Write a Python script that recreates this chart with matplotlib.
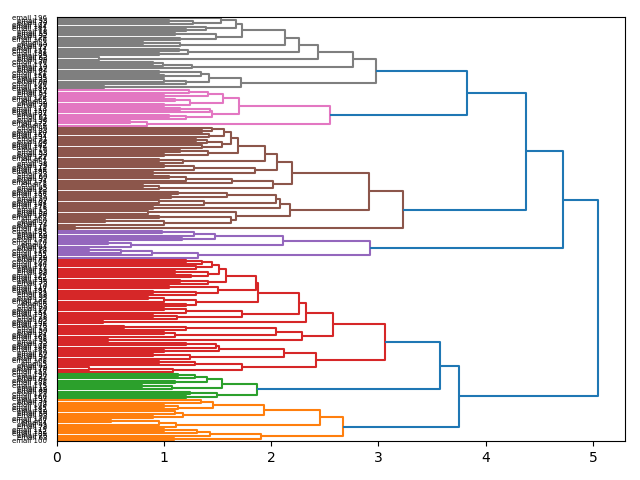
import matplotlib
matplotlib.use("Agg")
import matplotlib.pyplot as plt
from matplotlib.collections import LineCollection

# merge tree, listed top to bottom
# node = (height, upper child, lower child)
# list = small run of leaves merged one after another at the given heights
gray = (2.98,
        (2.76,
         (2.44,
          (2.26,
           (2.13,
            (1.73,
             (1.67,
              (1.53, [], [1.05, 1.27]),
              (1.39, [], [1.2])),
             (1.48, [1.1], [1.15])),
            [0.8, 1.15]),
           (1.22, [1.14], [0.95])),
          [0.39]),
         (1.26, [0.9, 0.99], [])),
        (1.72,
         (1.42, (1.34, [0.95], [1.0]), [1.0, 1.2]),
         [0.44]))

pink = (2.55,
        (1.70,
         (1.55,
          (1.41, [1.23], [1.0]),
          (1.24, [1.10], [1.0])),
         (1.45, [1.15, 1.43], [1.05, 1.2])),
        [0.68, 0.84])

brown = (3.23,
         (2.91,
          (2.19,
           (2.05,
            (1.94,
             (1.69,
              (1.62,
               (1.56, (1.45, [], [1.35]), [1.42]),
               (1.54, [1.3, 1.4], [1.35])),
              (1.41, [1.15], [1.0])),
             [0.95, 1.18]),
            (1.85, [1.0, 1.28], [0.9])),
           (2.02, (1.63, [1.05, 1.2], []), [0.8, 0.95])),
          (2.17,
           (2.08,
            (2.04, (1.59, [1.13], [1.06]), (1.37, [0.95], [])),
            [0.9]),
           (1.67, [0.85], (1.62, [0.95], [0.45, 1.0])))),
         [0.17])

purple = (2.92,
          (2.11,
           (1.47, (1.28, [0.98], []), [1.17]),
           [0.48, 0.69]),
          (1.32, [0.3, 0.6, 0.89], []))

red = (3.06,
       (2.58,
        (2.32,
         (2.26,
          (1.88,
           (1.86,
            (1.58,
             (1.51, (1.45, [1.2, 1.35], [1.3]), (1.41, [1.1], [1.25])),
             [1.15, 1.41]),
            (1.5, [1.05], [0.9, 1.3])),
           (1.3, [0.85, 1.0], [1.2])),
          (1.73, [1.0, 1.2], [0.9, 1.12])),
         [0.43]),
        (2.29, (2.04, [0.63, 1.2], [1.0, 1.1]), [0.48])),
       (2.42,
        (2.12, (1.51, (1.48, [1.2], []), [1.0]), (1.24, [0.9], [])),
        (1.73, [0.95, 1.29], [0.3, 1.08])))

green = (1.87,
         (1.54, (1.40, (1.29, [1.13], []), [1.1]), [0.79, 1.07]),
         (1.49, [1.24], [1.2]))

orange = (2.67,
          (2.45,
           (1.93, (1.46, [1.34], [1.0, 1.13]), (1.18, [1.10], [0.9])),
           (1.11, [0.5, 0.95], [])),
          (1.90, (1.43, (1.31, [1.0], []), []), [1.09]))

tree = (5.05,
        (4.72, (4.38, (3.83, gray, pink), brown), purple),
        (3.75, (3.57, red, green), orange))

max_h = tree[0]
threshold = 0.7 * max_h

links = []      # (h, pos_a, h_a, pos_b, h_b, cluster)
n_leaves = [0]
n_clusters = [0]


def walk(node, cid):
    if isinstance(node, list):
        if cid is None:
            cid = n_clusters[0]
            n_clusters[0] += 1
        pos, h = n_leaves[0], 0.0
        n_leaves[0] += 1
        for hm in node:
            pos2 = n_leaves[0]
            n_leaves[0] += 1
            links.append((hm, pos, h, pos2, 0.0, cid))
            pos, h = (pos + pos2) / 2, hm
        return pos, h
    hm, a, b = node
    if cid is None and hm < threshold:
        cid = n_clusters[0]
        n_clusters[0] += 1
    pa, ha = walk(a, cid)
    pb, hb = walk(b, cid)
    links.append((hm, pa, ha, pb, hb, cid))
    return (pa + pb) / 2, hm


walk(tree, None)
N = n_leaves[0]
K = n_clusters[0]


def to_y(p):
    return 10 * (N - p) - 5


palette = ["C1", "C2", "C3", "C4", "C5", "C6", "C7", "C8", "C9"]
by_color = {}
for hm, pa, ha, pb, hb, cid in links:
    col = "C0" if cid is None else palette[(K - 1 - cid) % len(palette)]
    seg = [(ha, to_y(pa)), (hm, to_y(pa)), (hm, to_y(pb)), (hb, to_y(pb))]
    by_color.setdefault(col, []).append(seg)

fig, ax = plt.subplots(figsize=(6.4, 4.8), dpi=100)
for col, segs in by_color.items():
    if col != "C0":
        ax.add_collection(LineCollection(segs, colors=(col,), linewidths=1.5))
ax.add_collection(LineCollection(by_color["C0"], colors=("C0",), linewidths=1.5))

ax.set_xlim(0, max_h * 1.05)
ax.set_ylim(0, N * 10)
ax.set_yticks([to_y(i) for i in range(N)])
# leaf names are unreadable in the original, numbers just spread over 0-199
ax.set_yticklabels([f"email {(196 + 37 * i) % 200}" for i in range(N)])
ax.yaxis.set_tick_params(labelsize=5)
# leaf tick marks hidden, they would cover the links
for line in ax.get_yticklines():
    line.set_visible(False)

plt.subplots_adjust(left=0.089, right=0.977, top=0.965, bottom=0.081)
plt.savefig("out.png")
